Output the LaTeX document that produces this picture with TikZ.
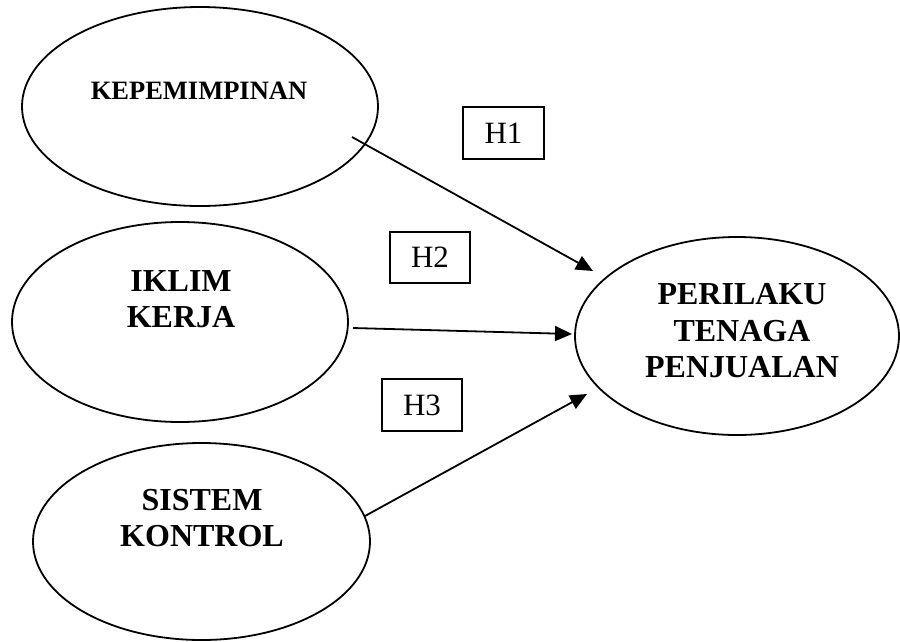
\documentclass[tikz,border=0pt]{standalone}
\usepackage{fontspec}
\setmainfont{Liberation Serif}
\usetikzlibrary{shapes.geometric,arrows.meta}
\tikzset{
  var/.style={draw, ellipse, line width=1.8pt, inner sep=0pt},
  vtext/.style={font=\fontsize{32}{36.5}\selectfont\bfseries, align=center, inner sep=0pt},
  hbox/.style={draw, line width=1.8pt, inner sep=0pt, font=\fontsize{31}{31}\selectfont},
  link/.style={line width=1.8pt, -{Triangle[length=17pt,width=15pt]}}
}
\begin{document}
\begin{tikzpicture}[x=1pt,y=-1pt]
\useasboundingbox (0,0) rectangle (900,641);
% ellipses
\node[var, minimum width=356pt, minimum height=199pt] (kep) at (200,106.5) {};
\node[var, minimum width=336pt, minimum height=200pt] (ikl) at (180,322) {};
\node[var, minimum width=337pt, minimum height=197pt] (sis) at (201.5,541.5) {};
\node[var, minimum width=324pt, minimum height=198pt] (per) at (737,336) {};
% texts
\node[vtext, font=\fontsize{26.5}{30}\selectfont\bfseries] (tkep) at (199,91) {KEPEMIMPINAN};
\node[vtext] (tikl) at (181,299) {IKLIM\\KERJA};
\node[vtext] (tsis) at (202,518) {SISTEM\\KONTROL};
\node[vtext] (tper) at (742,331) {PERILAKU\\TENAGA\\PENJUALAN};
% hypothesis boxes
\node[hbox, minimum width=81pt, minimum height=52pt] (h1) at (503.5,133) {H1};
\node[hbox, minimum width=80pt, minimum height=51pt] (h2) at (430,257.5) {H2};
\node[hbox, minimum width=80pt, minimum height=52pt] (h3) at (422,405) {H3};
% connector end points
\coordinate (s1) at (352,137);
\coordinate (e1) at (593,271);
\coordinate (s2) at (353,328);
\coordinate (e2) at (572,334);
\coordinate (s3) at (365,516);
\coordinate (e3) at (587,394);
\draw[link] (s1) -- (e1);
\draw[link] (s2) -- (e2);
\draw[link] (s3) -- (e3);
\end{tikzpicture}
\end{document}
